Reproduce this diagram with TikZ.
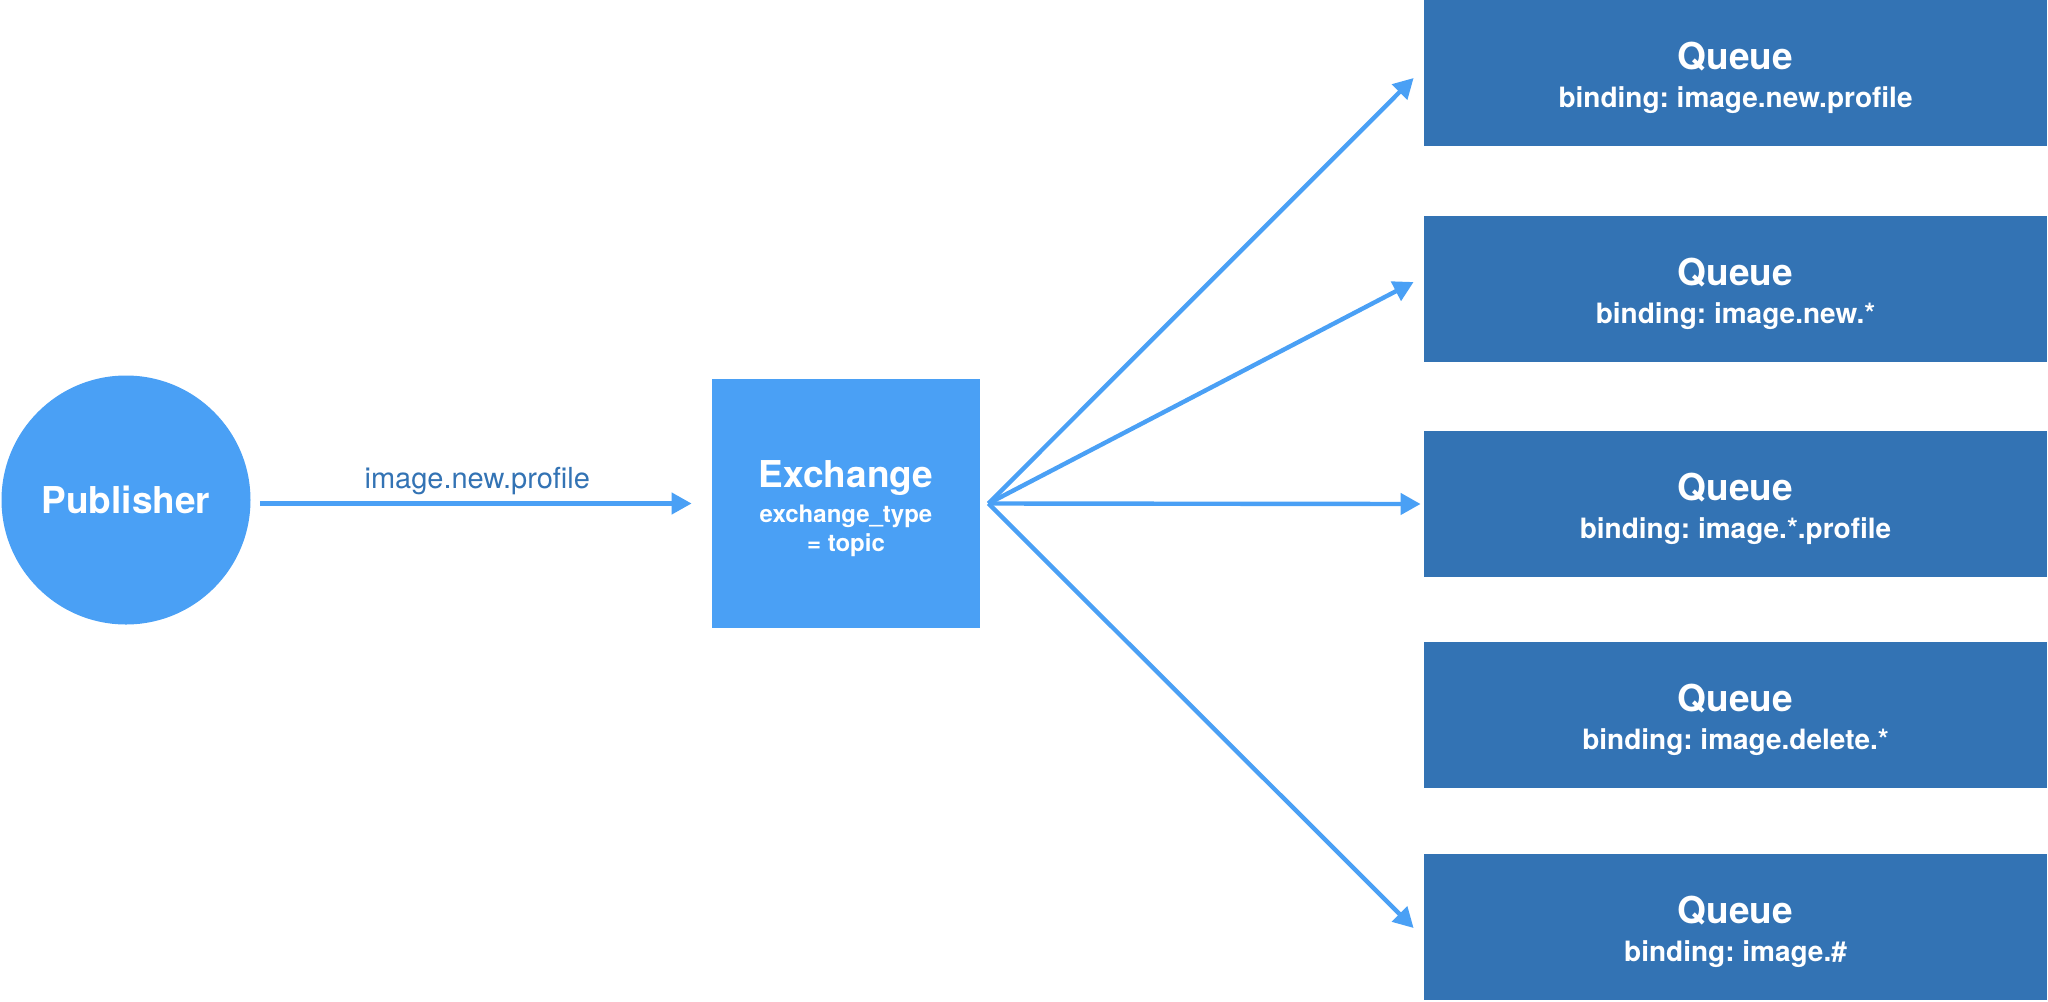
\documentclass[tikz,border=0pt]{standalone}
\usepackage{fontspec}
\setmainfont{TeX Gyre Heros}
\usetikzlibrary{arrows.meta,calc}
\definecolor{lblue}{HTML}{4AA0F5}
\definecolor{qblue}{HTML}{3373B4}
\frenchspacing
\begin{document}
\begin{tikzpicture}[x=0.5pt,y=-0.5pt,
  conn/.style={draw=lblue, line width=2.2pt, -{Triangle[length=10pt,width=10.5pt]}},
  pubnode/.style={circle, fill=lblue, minimum size=124.5pt, inner sep=0pt, text=white,
    font=\fontsize{18.5}{22}\selectfont\bfseries},
  exnode/.style={rectangle, fill=lblue, minimum width=134pt, minimum height=124.5pt, inner sep=0pt,
    text=white, align=center, font=\fontsize{12}{14.5}\selectfont\bfseries},
  queue/.style={rectangle, fill=qblue, minimum width=311.5pt, minimum height=73pt, inner sep=0pt,
    text=white, align=center, font=\fontsize{14}{19}\selectfont\bfseries},
  edgelabel/.style={text=qblue, font=\fontsize{14.5}{17}\selectfont, inner sep=0pt}
]
\useasboundingbox (0,0) rectangle (2048,1001);

\node[pubnode] (pub) at (126,500) {Publisher};
\node[exnode] (ex) at (846,503.5) {{\fontsize{18.5}{19}\selectfont\rule{0pt}{19pt}Exchange}\\[3pt]exchange\_type\\= topic};

\node[queue] (q1) at (1735.5,73)  {{\fontsize{18.5}{19}\selectfont\rule{0pt}{19pt}Queue}\\binding: image.new.profile};
\node[queue] (q2) at (1735.5,289) {{\fontsize{18.5}{19}\selectfont\rule{0pt}{19pt}Queue}\\binding: image.new.*};
\node[queue] (q3) at (1735.5,504) {{\fontsize{18.5}{19}\selectfont\rule{0pt}{19pt}Queue}\\binding: image.*.profile};
\node[queue] (q4) at (1735.5,715) {{\fontsize{18.5}{19}\selectfont\rule{0pt}{19pt}Queue}\\binding: image.delete.*};
\node[queue] (q5) at (1735.5,927) {{\fontsize{18.5}{19}\selectfont\rule{0pt}{19pt}Queue}\\binding: image.\#};

\draw[conn, shorten <=4.5pt, shorten >=10pt] (pub.east |- ex.west) -- (ex.west)
  node[edgelabel, midway, anchor=base, yshift=7.5pt, xshift=-2pt] {image.new.profile};

\coordinate (apex) at ($(ex.east)+(8,0)$);
\draw[conn] (apex) -- ($(q1.west)+(-10,5)$);
\draw[conn] (apex) -- ($(q2.west)+(-10,-7)$);
\draw[conn] (apex) -- ($(q3.west)+(-3,0)$);
\draw[conn] (apex) -- ($(q5.west)+(-10,1)$);
\end{tikzpicture}
\end{document}
